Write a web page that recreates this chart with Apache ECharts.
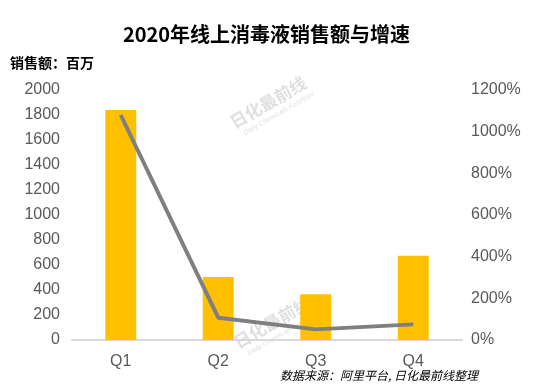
<!DOCTYPE html>
<html><head><meta charset="utf-8">
<script src="https://cdn.jsdelivr.net/npm/echarts@6/dist/echarts.min.js"></script>
<style>html,body{margin:0;padding:0;background:#fff}#c{width:533px;height:392px}</style>
</head><body><div id="c"></div>
<script>
const categories = ['Q1', 'Q2', 'Q3', 'Q4'];
const salesValues = [1840, 505, 367, 675];
const growthValues = [1080, 107, 51, 75];
const leftTicks = ['0', '200', '400', '600', '800', '1000', '1200', '1400', '1600', '1800', '2000'];
const rightTicks = ['0%', '200%', '400%', '600%', '800%', '1000%', '1200%'];

const chart = echarts.init(document.getElementById('c'));
const labelFont = {color: '#595959', fontSize: 16, fontFamily: 'Liberation Sans, Arial, sans-serif'};
const wm = 'rgba(150,150,150,0.3)';
chart.setOption({
  animation: false,
  title: {
    text: '2020年线上消毒液销售额与增速',
    left: 'center', top: 19,
    textStyle: {fontSize: 20, fontWeight: 'bold', color: '#000', fontFamily: 'Noto Sans CJK SC'}
  },
  graphic: [
    {type: 'text', left: 10, top: 56, style: {text: '销售额：百万', font: 'bold 14px "Noto Sans CJK SC"', fill: '#000'}},
    {type: 'text', right: 55, top: 369, style: {text: '数据来源：阿里平台, 日化最前线整理', font: 'italic 12px "Noto Sans CJK SC"', fill: '#000'}},
    {type: 'group', x: 232, y: 125, rotation: Math.PI/6, children: [
      {type: 'text', x: 0, y: -10, style: {text: '日化最前线', font: 'bold 17px "Noto Sans CJK SC"', fill: wm}},
      {type: 'text', x: 6, y: 10, style: {text: 'Daily Chemicals Forefront', font: 'italic 7px "Liberation Sans"', fill: wm}}
    ]},
    {type: 'group', x: 236, y: 345, rotation: Math.PI/6, children: [
      {type: 'text', x: 0, y: -10, style: {text: '日化最前线', font: 'bold 17px "Noto Sans CJK SC"', fill: wm}},
      {type: 'text', x: 6, y: 10, style: {text: 'Daily Chemicals Forefront', font: 'italic 7px "Liberation Sans"', fill: wm}}
    ]}
  ],
  grid: {left: 72, right: 71, top: 90, bottom: 52},
  xAxis: {
    type: 'category', data: categories,
    axisLine: {lineStyle: {color: '#D9D9D9', width: 2}},
    axisTick: {show: false},
    axisLabel: Object.assign({margin: 14}, labelFont)
  },
  yAxis: [
    {type: 'value', min: 0, max: 2000, interval: 200,
     splitLine: {show: false}, axisLine: {show: false}, axisTick: {show: false},
     axisLabel: Object.assign({margin: 12, formatter: v => leftTicks[v/200]}, labelFont)},
    {type: 'value', min: 0, max: 1200, interval: 200,
     splitLine: {show: false}, axisLine: {show: false}, axisTick: {show: false},
     axisLabel: Object.assign({margin: 9, formatter: v => rightTicks[v/200]}, labelFont)}
  ],
  series: [
    {type: 'bar', data: salesValues, barWidth: 31, itemStyle: {color: '#FFC000'}},
    {type: 'line', yAxisIndex: 1, data: growthValues, symbol: 'none',
     lineStyle: {color: '#7F7F7F', width: 4}}
  ]
});
</script></body></html>
